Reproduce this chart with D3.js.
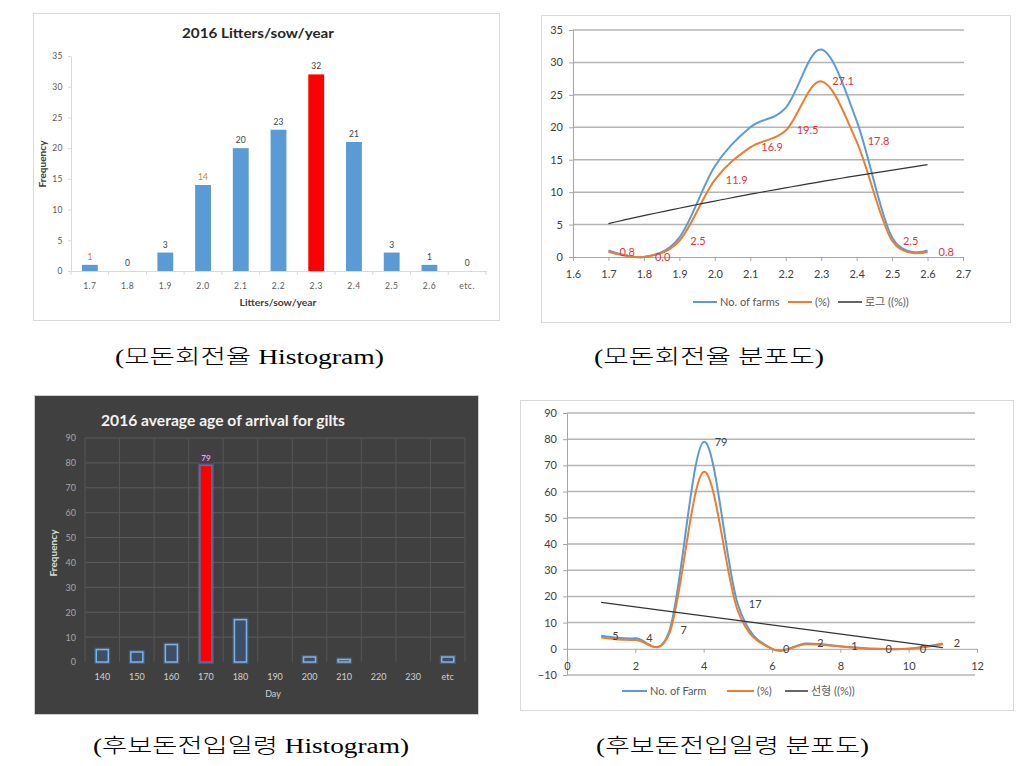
<!DOCTYPE html>
<html><head><meta charset="utf-8">
<script src="https://cdn.jsdelivr.net/npm/d3@7"></script>
<style>body{margin:0;background:#fff}</style>
</head><body>
<svg id="c" width="1022" height="766"></svg>
<script>
// ---------- DATA ----------
const sowCategories = ["1.7","1.8","1.9","2.0","2.1","2.2","2.3","2.4","2.5","2.6","etc."];
const sowCounts = [1,0,3,14,20,23,32,21,3,1,0];
const sowHighlight = "2.3";
const sowYTicks = [0,5,10,15,20,25,30,35];

const sowDistX = [1.7,1.8,1.9,2.0,2.1,2.2,2.3,2.4,2.5,2.6];
const sowDistFarms = [1,0,3,14,20,23,32,21,3,1];
const sowDistPct = [0.8,0.0,2.5,11.9,16.9,19.5,27.1,17.8,2.5,0.8];
const sowDistXTicks = [1.6,1.7,1.8,1.9,2.0,2.1,2.2,2.3,2.4,2.5,2.6,2.7];
const sowDistYTicks = [0,5,10,15,20,25,30,35];

const giltCategories = ["140","150","160","170","180","190","200","210","220","230","etc"];
const giltCounts = [5,4,7,79,17,0,2,1,0,0,2];
const giltHighlight = "170";
const giltYTicks = [0,10,20,30,40,50,60,70,80,90];

const giltDistX = [1,2,3,4,5,6,7,8,9,10,11];
const giltDistFarms = [5,4,7,79,17,0,2,1,0,0,2];
const giltDistPct = [4.3,3.4,6.0,67.5,14.5,0.0,1.7,0.9,0.0,0.0,1.7];
const giltDistXTicks = [0,2,4,6,8,10,12];
const giltDistYTicks = [-10,0,10,20,30,40,50,60,70,80,90];

const captions = ["(모돈회전율 Histogram)","(모돈회전율 분포도)","(후보돈전입일령 Histogram)","(후보돈전입일령 분포도)"];

// ---------- HELPERS ----------
const SANS = "Lato, 'Noto Sans CJK KR', sans-serif";
const SERIF = "'Liberation Serif', 'Noto Sans CJK KR', serif";
const BLUE = "#5B9BD5", ORANGE = "#ED7D31";
const svg = d3.select("#c");
svg.append("rect").attr("width",1022).attr("height",766).attr("fill","#fff");

function styleAxis(sel, lineColor, fs, tc){
  sel.attr("font-family", SANS);
  sel.select(".domain").attr("stroke", lineColor);
  sel.selectAll(".tick line").attr("stroke", lineColor);
  sel.selectAll(".tick text").attr("font-size", fs).attr("fill", tc);
}
function fitLog(xs, ys){
  const lx = xs.map(Math.log);
  const mx = d3.mean(lx), my = d3.mean(ys);
  let sxy=0, sxx=0;
  lx.forEach((v,i)=>{sxy+=(v-mx)*(ys[i]-my); sxx+=(v-mx)*(v-mx);});
  const b = sxy/sxx, a = my-b*mx;
  return x => a + b*Math.log(x);
}
function fitLinear(xs, ys){
  const mx = d3.mean(xs), my = d3.mean(ys);
  let sxy=0, sxx=0;
  xs.forEach((v,i)=>{sxy+=(v-mx)*(ys[i]-my); sxx+=(v-mx)*(v-mx);});
  const b = sxy/sxx, a = my-b*mx;
  return x => a + b*x;
}
function legend(g, y, items){
  items.forEach(it=>{
    g.append("line").attr("x1",it.x1).attr("x2",it.x2).attr("y1",y).attr("y2",y)
      .attr("stroke",it.color).attr("stroke-width",it.w||2);
    g.append("text").attr("x",it.x2+3).attr("y",y).attr("dy","0.35em")
      .attr("font-family",SANS).attr("font-size",11).attr("fill","#595959").text(it.label);
  });
}

// ---------- PANEL 1 : sow histogram ----------
{
  const g = svg.append("g");
  g.append("rect").attr("x",33.5).attr("y",13.5).attr("width",466).attr("height",307)
    .attr("fill","#fff").attr("stroke","#d9d9d9");
  const x = d3.scaleBand().domain(sowCategories).range([71,486]);
  const y = d3.scaleLinear().domain([0,35]).range([271,56]);
  const ya = g.append("g").attr("transform","translate(71,0)")
    .call(d3.axisLeft(y).tickValues(sowYTicks).tickSize(3).tickSizeOuter(0).tickPadding(5));
  styleAxis(ya,"#d9d9d9",8.5,"#595959");
  const xa = g.append("g").attr("transform","translate(0,271)")
    .call(d3.axisBottom(x).tickSize(0).tickSizeOuter(0).tickPadding(12));
  styleAxis(xa,"#d9d9d9",8.5,"#595959");
  xa.selectAll(".tick text").attr("letter-spacing",0.5);
  ya.selectAll(".tick text").attr("letter-spacing",0.5);
  const bounds = sowCategories.map(c=>x(c)).concat([x.range()[1]]);
  g.selectAll(".btick").data(bounds).join("line")
    .attr("x1",d=>d).attr("x2",d=>d).attr("y1",271).attr("y2",275).attr("stroke","#d9d9d9");
  const bw = x.bandwidth()*0.42;
  g.selectAll(".bar").data(sowCategories).join("rect")
    .attr("x",c=>x(c)+(x.bandwidth()-bw)/2).attr("width",bw)
    .attr("y",(c,i)=>y(sowCounts[i])).attr("height",(c,i)=>y(0)-y(sowCounts[i]))
    .attr("fill",c=>c===sowHighlight?"#FF0000":BLUE);
  g.selectAll(".lbl").data(sowCategories).join("text")
    .attr("x",c=>x(c)+x.bandwidth()/2).attr("y",(c,i)=>y(sowCounts[i])-5)
    .attr("text-anchor","middle").attr("font-family",SANS).attr("font-size",8.5)
    .attr("fill",(c,i)=>(i===0||i===3)?"#c8822e":"#404040").text((c,i)=>sowCounts[i]);
  g.append("text").attr("x",258).attr("y",33).attr("dy","0.35em").attr("text-anchor","middle")
    .attr("font-family",SANS).attr("font-weight","bold").attr("font-size",14).attr("fill","#262626")
    .attr("textLength",152).attr("lengthAdjust","spacingAndGlyphs").text("2016 Litters/sow/year");
  g.append("text").attr("x",278).attr("y",303).attr("dy","0.35em").attr("text-anchor","middle")
    .attr("font-family",SANS).attr("font-weight","bold").attr("font-size",9).attr("fill","#404040")
    .attr("textLength",77).attr("lengthAdjust","spacingAndGlyphs").text("Litters/sow/year");
  g.append("text").attr("transform","translate(43,164) rotate(-90)").attr("dy","0.35em")
    .attr("text-anchor","middle").attr("font-family",SANS).attr("font-weight","bold")
    .attr("font-size",9).attr("fill","#404040").attr("textLength",47)
    .attr("lengthAdjust","spacingAndGlyphs").text("Frequency");
}

// ---------- PANEL 2 : sow distribution ----------
{
  const g = svg.append("g");
  g.append("rect").attr("x",541.5).attr("y",15.5).attr("width",469).attr("height",307)
    .attr("fill","#fff").attr("stroke","#d9d9d9");
  const x = d3.scaleLinear().domain([1.6,2.7]).range([573,963]);
  const y = d3.scaleLinear().domain([0,35]).range([257,30]);
  g.selectAll(".grid").data(sowDistYTicks.filter(v=>v>0)).join("line")
    .attr("x1",573).attr("x2",964).attr("y1",d=>y(d)).attr("y2",d=>y(d))
    .attr("stroke","#b4b4b4").attr("stroke-width",1.5);
  const ya = g.append("g").attr("transform","translate(573,0)")
    .call(d3.axisLeft(y).tickValues(sowDistYTicks).tickSize(4).tickSizeOuter(0).tickPadding(6));
  styleAxis(ya,"#a6a6a6",11,"#404040");
  const xa = g.append("g").attr("transform","translate(0,257)")
    .call(d3.axisBottom(x).tickValues(sowDistXTicks).tickFormat(d3.format(".1f")).tickSize(4).tickSizeOuter(0).tickPadding(9));
  styleAxis(xa,"#a6a6a6",11,"#404040");
  const curve = d3.curveCardinal.tension(0);
  const line = (ys)=>d3.line().x((d,i)=>x(sowDistX[i])).y(d=>y(d)).curve(curve)(ys);
  g.append("path").attr("d",line(sowDistFarms)).attr("fill","none").attr("stroke",BLUE).attr("stroke-width",2);
  g.append("path").attr("d",line(sowDistPct)).attr("fill","none").attr("stroke",ORANGE).attr("stroke-width",2);
  const f = fitLog(sowDistX, sowDistPct);
  const xs = d3.range(0,41).map(i=>sowDistX[0]+(sowDistX[sowDistX.length-1]-sowDistX[0])*i/40);
  g.append("path").attr("d",d3.line().x(d=>x(d)).y(d=>y(f(d)))(xs))
    .attr("fill","none").attr("stroke","#333").attr("stroke-width",1.2);
  g.selectAll(".lbl").data(sowDistPct).join("text")
    .attr("x",(d,i)=>x(sowDistX[i])+11).attr("y",d=>y(d)).attr("dy","0.35em")
    .attr("font-family",SANS).attr("font-size",11).attr("fill","#e0343c")
    .text(d=>d3.format(".1f")(d));
  legend(g,302,[
    {x1:693,x2:717,color:BLUE,label:"No. of farms"},
    {x1:788,x2:812,color:ORANGE,label:"(%)"},
    {x1:838,x2:862,color:"#333",w:1.5,label:"로그 ((%))"}
  ]);
}

// ---------- PANEL 3 : gilt histogram (dark) ----------
{
  const g = svg.append("g");
  g.append("rect").attr("x",34.5).attr("y",395.5).attr("width",444).attr("height",319)
    .attr("fill","#404040").attr("stroke","#cfcfcf");
  const x = d3.scaleBand().domain(giltCategories).range([85,465]);
  const y = d3.scaleLinear().domain([0,90]).range([662,438]);
  g.selectAll(".hg").data(giltYTicks.filter(v=>v>0)).join("line")
    .attr("x1",85).attr("x2",465).attr("y1",d=>y(d)).attr("y2",d=>y(d))
    .attr("stroke","#5a5a5a").attr("stroke-width",1);
  const bounds = giltCategories.map(c=>x(c)).concat([x.range()[1]]);
  g.selectAll(".vg").data(bounds).join("line")
    .attr("x1",d=>d).attr("x2",d=>d).attr("y1",y(90)).attr("y2",y(0))
    .attr("stroke","#555555").attr("stroke-width",1);
  const ya = g.append("g").attr("transform","translate(85,0)")
    .call(d3.axisLeft(y).tickValues(giltYTicks).tickSize(0).tickPadding(9));
  styleAxis(ya,"none",9,"#a6a6a6");
  const xa = g.append("g").attr("transform","translate(0,662)")
    .call(d3.axisBottom(x).tickSize(0).tickSizeOuter(0).tickPadding(12));
  styleAxis(xa,"none",9,"#d0d0d0");
  const bw = 12;
  const bx = c=>x(c)+(x.bandwidth()-bw)/2;
  g.selectAll(".glow").data(giltCategories).join("rect")
    .attr("x",bx).attr("width",bw)
    .attr("y",(c,i)=>y(giltCounts[i])).attr("height",(c,i)=>y(0)-y(giltCounts[i]))
    .attr("fill","none").attr("stroke",BLUE).attr("stroke-opacity",0.3).attr("stroke-width",4)
    .attr("display",(c,i)=>giltCounts[i]>0?null:"none");
  g.selectAll(".bar").data(giltCategories).join("rect")
    .attr("x",bx).attr("width",bw)
    .attr("y",(c,i)=>y(giltCounts[i])).attr("height",(c,i)=>y(0)-y(giltCounts[i]))
    .attr("fill",c=>c===giltHighlight?"#FF0000":"#3d4f68")
    .attr("stroke",c=>c===giltHighlight?"#4a72c0":"#7fb2e5").attr("stroke-width",1.5)
    .attr("display",(c,i)=>giltCounts[i]>0?null:"none");
  const hi = giltCategories.indexOf(giltHighlight);
  const hx = x(giltHighlight)+x.bandwidth()/2;
  g.append("rect").attr("x",hx-7).attr("y",y(giltCounts[hi])-13).attr("width",14).attr("height",11)
    .attr("fill","#4d3a4c");
  g.append("text").attr("x",hx).attr("y",y(giltCounts[hi])-7.5).attr("dy","0.35em")
    .attr("text-anchor","middle").attr("font-family",SANS).attr("font-size",8)
    .attr("fill","#f0d0e4").text(giltCounts[hi]);
  g.append("text").attr("x",101).attr("y",421).attr("dy","0.35em")
    .attr("font-family",SANS).attr("font-weight","bold").attr("font-size",15).attr("fill","#f2f2f2")
    .attr("textLength",244).attr("lengthAdjust","spacingAndGlyphs")
    .text("2016 average age of arrival for gilts");
  g.append("text").attr("x",273).attr("y",694).attr("dy","0.35em").attr("text-anchor","middle")
    .attr("font-family",SANS).attr("font-size",9).attr("fill","#d0d0d0").text("Day");
  g.append("text").attr("transform","translate(54,553) rotate(-90)").attr("dy","0.35em")
    .attr("text-anchor","middle").attr("font-family",SANS).attr("font-weight","bold")
    .attr("font-size",9).attr("fill","#d9d9d9").attr("textLength",47)
    .attr("lengthAdjust","spacingAndGlyphs").text("Frequency");
}

// ---------- PANEL 4 : gilt distribution ----------
{
  const g = svg.append("g");
  g.append("rect").attr("x",520.5).attr("y",400.5).attr("width",493).attr("height",310)
    .attr("fill","#fff").attr("stroke","#d9d9d9");
  const x = d3.scaleLinear().domain([0,12]).range([567,977]);
  const y = d3.scaleLinear().domain([-10,90]).range([675,413]);
  g.selectAll(".grid").data(giltDistYTicks.filter(v=>v!==0)).join("line")
    .attr("x1",567).attr("x2",975).attr("y1",d=>y(d)).attr("y2",d=>y(d))
    .attr("stroke","#b4b4b4").attr("stroke-width",1.5);
  const ya = g.append("g").attr("transform","translate(567,0)")
    .call(d3.axisLeft(y).tickValues(giltDistYTicks).tickSize(4).tickSizeOuter(0).tickPadding(6));
  styleAxis(ya,"#a6a6a6",11,"#404040");
  const xa = g.append("g").attr("transform",`translate(0,${y(0)})`)
    .call(d3.axisBottom(x).tickValues(giltDistXTicks).tickSize(4).tickSizeOuter(0).tickPadding(9));
  styleAxis(xa,"#a6a6a6",11,"#404040");
  const curve = d3.curveCardinal.tension(0);
  const line = (ys)=>d3.line().x((d,i)=>x(giltDistX[i])).y(d=>y(d)).curve(curve)(ys);
  g.append("path").attr("d",line(giltDistFarms)).attr("fill","none").attr("stroke",BLUE).attr("stroke-width",2);
  g.append("path").attr("d",line(giltDistPct)).attr("fill","none").attr("stroke",ORANGE).attr("stroke-width",2);
  const f = fitLinear(giltDistX, giltDistPct);
  const x0 = giltDistX[0], x1 = giltDistX[giltDistX.length-1];
  g.append("line").attr("x1",x(x0)).attr("y1",y(f(x0))).attr("x2",x(x1)).attr("y2",y(f(x1)))
    .attr("stroke","#333").attr("stroke-width",1.2);
  g.selectAll(".lbl").data(giltDistFarms).join("text")
    .attr("x",(d,i)=>x(giltDistX[i])+11).attr("y",d=>y(d)).attr("dy","0.35em")
    .attr("font-family",SANS).attr("font-size",11).attr("fill","#404040").text(d=>d);
  legend(g,691,[
    {x1:622,x2:647,color:BLUE,label:"No. of Farm"},
    {x1:727,x2:754,color:ORANGE,label:"(%)"},
    {x1:785,x2:808,color:"#333",w:1.5,label:"선형 ((%))"}
  ]);
}

// ---------- CAPTIONS ----------
const capPos = [{x:115,w:269,y:357},{x:594,w:230,y:357},{x:93,w:316,y:746},{x:596,w:273,y:746}];
svg.selectAll(".cap").data(captions).join("text")
  .attr("x",(d,i)=>capPos[i].x).attr("y",(d,i)=>capPos[i].y).attr("dy","0.35em")
  .attr("font-family",SERIF).attr("font-size",20).attr("font-weight",300).attr("fill","#000")
  .attr("textLength",(d,i)=>capPos[i].w).attr("lengthAdjust","spacingAndGlyphs").text(d=>d);
</script>
</body></html>
